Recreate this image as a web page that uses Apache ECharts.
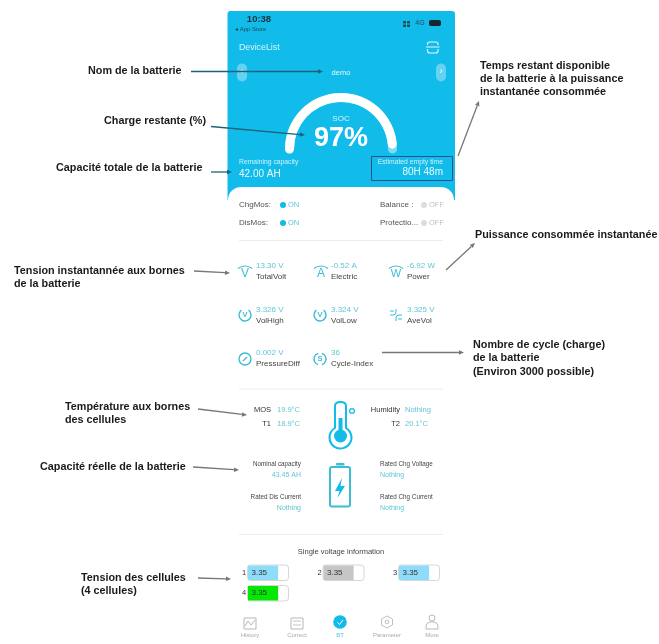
<!DOCTYPE html>
<html><head><meta charset="utf-8">
<style>html,body{margin:0;padding:0;background:#fff}#c{width:659px;height:644px}</style>
<script src="https://cdn.jsdelivr.net/npm/echarts@6/dist/echarts.min.js"></script></head>
<body><div id="c"></div>
<script>
// ---- data ----
const socPercent = 97;
const cellNames = ['1','2','3','4'];
const cellVoltages = [3.35,3.35,3.35,3.35];
const cellColors = ['#8edcfa','#c6c6c6','#8edcfa','#04e804'];
const cellScaleMax = 4.45;
const metricValues = ['13.30 V','-0.52 A','-6.92 W','3.326 V','3.324 V','3.325 V','0.002 V','36'];
const metricNames = ['TotalVolt','Electric','Power','VolHigh','VolLow','AveVol','PressureDiff','Cycle-Index'];
const navNames = ['History','Correct','BT','Parameter','More'];
const annotations = {
  name:'Nom de la batterie', soc:'Charge restante (%)', cap:'Capacité totale de la batterie',
  volt:['Tension instantannée aux bornes','de la batterie'],
  temp:['Température aux bornes','des cellules'], real:'Capacité réelle de la batterie',
  cells:['Tension des cellules','(4 cellules)'],
  time:['Temps restant disponible','de la batterie à la puissance','instantanée consommée'],
  power:'Puissance consommée instantanée',
  cycle:['Nombre de cycle (charge)','de la batterie','(Environ 3000 possible)']
};

// ---- helpers ----
const F='"Liberation Sans",Arial,sans-serif', BLUE='#12bcea', TEAL='#62c6d6', ICON='#3dbcd6';
const g=[];
function T(text,x,y,size,fill,o={}){g.push({type:'text',z:o.z||5,silent:true,x,y,style:{text,fontFamily:F,fontSize:size,fill,
  align:o.align||'left',verticalAlign:'middle',fontWeight:o.bold?'bold':'normal',opacity:o.op==null?1:o.op}});}
function L(x1,y1,x2,y2,stroke,w,z=6){g.push({type:'line',z,silent:true,shape:{x1,y1,x2,y2},style:{stroke,lineWidth:w}});}
function R(x,y,w,h,o={}){g.push({type:'rect',z:o.z||1,silent:true,shape:{x,y,width:w,height:h,r:o.r||0},style:{fill:o.fill||'none',stroke:o.stroke||'none',lineWidth:o.lw||1,opacity:o.op==null?1:o.op}});}
function C(cx,cy,r,o={}){g.push({type:'circle',z:o.z||3,silent:true,shape:{cx,cy,r},style:{fill:o.fill||'none',stroke:o.stroke||'none',lineWidth:o.lw||1}});}
function A(cx,cy,r,s,e,o={}){g.push({type:'arc',z:o.z||3,silent:true,shape:{cx,cy,r,startAngle:s,endAngle:e,clockwise:true},style:{fill:'none',stroke:o.stroke||ICON,lineWidth:o.lw||1.2}});}
function P(pts,o={}){g.push({type:o.line?'polyline':'polygon',z:o.z||6,silent:true,shape:{points:pts},style:{fill:o.line?'none':(o.fill||'#777'),stroke:o.stroke||'none',lineWidth:o.lw||1}});}
let pathId=0;
function Pth(d,stroke,w){const name='iconPath'+(pathId++);echarts.graphic.registerShape(name,echarts.graphic.extendPath(d));
  g.push({type:name,z:3,silent:true,style:{fill:'none',stroke,lineWidth:w}});}
function Arrow(x1,y1,x2,y2,col,w=1.3,hs=5){
  const a=Math.atan2(y2-y1,x2-x1),bx=x2-hs*Math.cos(a),by=y2-hs*Math.sin(a),nx=-Math.sin(a)*hs*.45,ny=Math.cos(a)*hs*.45;
  L(x1,y1,bx,by,col,w); P([[x2,y2],[bx+nx,by+ny],[bx-nx,by-ny]],{fill:col});
}
function Lines(arr,x,y,lh,opt){(Array.isArray(arr)?arr:[arr]).forEach((t,i)=>T(t,x,y+i*lh,opt.size,'#1a1a1a',{bold:true,...opt}));}

// ---- phone background ----
R(227.5,11,227.5,189,{fill:BLUE,z:0,r:[3,3,0,0]});
R(228,187,226,457,{fill:'#fff',z:0,r:[13,13,0,0]});

// status bar
T('10:38',259,19,9.5,'#15323c',{align:'center',bold:true});
T('◂ App Store',235,29.5,6,'#1d4a5a');
T('4G',420,23.5,7,'#1d4a5a',{align:'center'});
[[403,21],[407,21],[403,24.5],[407,24.5]].forEach(p=>R(p[0],p[1],3,2.5,{fill:'#24505e',z:2}));
R(429,20,12,6,{fill:'#14262c',z:2,r:2});
T('DeviceList',239,47.5,8.8,'#d9f4fc');
Pth('M427.5 45V44Q427.5 42 430 42H435.5Q438 42 438 44V45','#e6f8fd',1.1);
Pth('M427.5 49V51Q427.5 53 430 53H435.5Q438 53 438 51V49','#e6f8fd',1.1);
L(426,47,439.5,47,'#e6f8fd',1,3);

// device selector
R(237,63.5,10,18,{fill:'#fff',op:.35,r:5,z:2});
R(436,63.5,10,18,{fill:'#fff',op:.35,r:5,z:2});
T('‹',242,72,9,'#eaf9fd',{align:'center'}); T('›',441,72,9,'#fff',{align:'center'});
T('demo',341,72.5,7.5,'#e6f8fd',{align:'center'});

// summary texts
T('Remaining capacity',239,162.5,6.8,'#cdf1fb');
T('42.00 AH',239,174,10,'#e8f9fd');
T('Estimated empty time',443,162.5,6.8,'#cdf1fb',{align:'right'});
T('80H 48m',443,172,10,'#e8f9fd',{align:'right'});
R(371.5,156.5,81,24,{stroke:'#2b4f86',lw:1,z:4});

// switches
[['ChgMos:',239,205,283,'ON'],['DisMos:',239,223,283,'ON'],['Balance :',380,205,424,'OFF'],['Protectio...',380,223,424,'OFF']].forEach(s=>{
  const on=s[4]==='ON';
  T(s[0],s[1],s[2],8,'#555');
  C(s[3],s[2],3,{fill:on?BLUE:'#dcdcdc'});
  T(s[4],s[3]+5,s[2],7.5,on?TEAL:'#c0c0c0');
});
L(239,240.5,443,240.5,'#ececec',1,2);

// metrics
const mx=[256,331,407], my=[266,310,353];
metricValues.forEach((v,i)=>{
  const c=i%3,r=Math.floor(i/3),x=mx[c],y=my[r];
  T(v,x,y,8,TEAL); T(metricNames[i],x,y+11,8,'#444');
});
// icons: first row (arc and letter)
['V','A','W'].forEach((l,i)=>{
  const cx=[245,321,396][i];
  A(cx,277,11,-Math.PI*.72,-Math.PI*.28);
  T(l,cx,274,i==2?11:12,ICON,{align:'center'});
});
// second row
[245,320].forEach(x=>{
  A(x,315,6,-Math.PI*.3,Math.PI*1.3,{lw:1.4});
  T('V',x,315,7.5,ICON,{align:'center',bold:true});
});
Pth('M390 315H393Q396 315 396 312V309M396 321V318Q396 315 399 315H402M390 311H394M398 319H402',ICON,1);
// third row
C(245,359,6,{stroke:ICON,lw:1.4}); L(243,361,247,357,ICON,1.3,3);
A(320,359,6,-Math.PI*.4,Math.PI*.4,{lw:1.4}); A(320,359,6,Math.PI*.6,Math.PI*1.4,{lw:1.4});
T('S',320,359,7.5,ICON,{align:'center',bold:true});

L(239,389,443,389,'#ececec',1,2);

// temperature block
T('MOS',271,410,7.5,'#333',{align:'right'}); T('19.9°C',277,410,7.5,TEAL);
T('T1',271,424,7.5,'#333',{align:'right'}); T('18.9°C',277,424,7.5,TEAL);
T('Humidity',400,410,7.5,'#333',{align:'right'}); T('Nothing',405,410,7.5,TEAL);
T('T2',400,424,7.5,'#333',{align:'right'}); T('20.1°C',405,424,7.5,TEAL);
Pth('M335 428V406Q335 402 340.5 402Q346 402 346 406V428A11 11 0 1 1 335 428Z',BLUE,2);
R(338.5,418,4,14,{fill:BLUE,z:3}); C(340.5,436,6.5,{fill:BLUE}); C(352,411,2.4,{stroke:BLUE,lw:1.3});

// capacity block
T('Nominal capacity',301,464.5,6.3,'#444',{align:'right'});
T('43.45 AH',301,475.5,7,TEAL,{align:'right'});
T('Rated Dis Current',301,497,6.3,'#444',{align:'right'});
T('Nothing',301,508,7,TEAL,{align:'right'});
T('Rated Chg Voltage',380,464.5,6.3,'#444');
T('Nothing',380,475.5,7,TEAL);
T('Rated Chg Current',380,497,6.3,'#444');
T('Nothing',380,508,7,TEAL);
R(336,463,8.5,2.5,{fill:ICON,z:3,r:1});
R(330,467,20,39.5,{stroke:ICON,lw:2,r:2,z:3});
P([[342,478],[335,491],[339.5,491],[337.5,498],[345,486],[340.5,486]],{fill:BLUE,z:3});

L(239,534.5,443,534.5,'#ececec',1,2);
T('Single voltage information',341,551.5,7.5,'#444',{align:'center'});

// cell frames + numbers
const cellPos=[[248,565.5],[323.5,565.5],[399,565.5],[248,586]];
cellNames.forEach((n,i)=>{
  T(n,cellPos[i][0]-4,cellPos[i][1]+7,7.5,'#333',{align:'center'});
  R(cellPos[i][0]-.5,cellPos[i][1]-.5,41,15.5,{stroke:'#d6d6d6',r:3,fill:'#fff',z:1});
});

// bottom nav
const navX=[250,297,340,387,432];
navNames.forEach((n,i)=>T(n,navX[i],635,6,i==2?TEAL:'#aaa',{align:'center'}));
R(244,618,12,11,{stroke:'#b8b8b8',z:3}); P([[245,626],[248,621],[251,625],[255,620]],{line:true,stroke:'#b8b8b8',z:3});
R(291,618,12,11,{stroke:'#b8b8b8',z:3}); L(293,621,301,621,'#c4c4c4',1,3); L(293,625,301,625,'#c4c4c4',1,3);
C(340,622,6.8,{fill:BLUE}); P([[337.5,622.5],[339.5,624.5],[343,620]],{line:true,stroke:'#fff',z:4});
P([[387,616],[392.5,619],[392.5,625],[387,628],[381.5,625],[381.5,619],[387,616]],{line:true,stroke:'#c0c0c0',z:3}); C(387,622,1.8,{stroke:'#c0c0c0'});
C(432,618,3,{stroke:'#b8b8b8'}); Pth('M426 629V626Q426 623 430 622H434Q438 623 438 626V629Z','#b8b8b8',1);

// annotations
const AS=10.8;
Lines(annotations.name,88,71,13,{size:AS});
Lines(annotations.soc,104,121,13,{size:AS});
Lines(annotations.cap,56,168,13,{size:AS});
Lines(annotations.volt,14,271,13,{size:AS});
Lines(annotations.temp,65,407,13,{size:AS});
Lines(annotations.real,40,467,13,{size:AS});
Lines(annotations.cells,81,578,13,{size:AS});
Lines(annotations.time,480,66,13,{size:AS});
Lines(annotations.power,475,235,13,{size:AS});
Lines(annotations.cycle,473,345,13.5,{size:AS});
const AC='#777', AD='#1c6178';
Arrow(191,71.5,323,71.5,AD,1.3);
Arrow(211,126.5,305,135,AD,1.3);
Arrow(211,172,232,172,AD,1.3);
Arrow(194,271,230,273,AC);
Arrow(198,409,247,415,AC);
Arrow(193,467,239,470,AC);
Arrow(198,578,231,579,AC);
Arrow(458,156,479,101,AC);
Arrow(446,270,475,243,AC);
Arrow(382,352.5,464,352.5,AC);

// ---- chart ----
const chart=echarts.init(document.getElementById('c'),null,{renderer:'canvas'});
const grids=[],xs=[],ys=[],bars=[];
cellVoltages.forEach((v,i)=>{
  grids.push({left:cellPos[i][0],top:cellPos[i][1],width:40,height:14.5,containLabel:false});
  xs.push({gridIndex:i,type:'value',min:0,max:cellScaleMax,show:false});
  ys.push({gridIndex:i,type:'category',data:[cellNames[i]],show:false});
  bars.push({type:'bar',xAxisIndex:i,yAxisIndex:i,barWidth:'100%',data:[v],silent:true,z:2,
    itemStyle:{color:cellColors[i]},
    label:{show:true,position:'insideLeft',distance:3.5,formatter:p=>p.value.toFixed(2),fontFamily:F,fontSize:8,color:'#333'}});
});
chart.setOption({
  animation:false,backgroundColor:'#fff',
  grid:grids,xAxis:xs,yAxis:ys,
  graphic:{elements:g},
  series:[{
    type:'gauge',center:[341,149],radius:56,startAngle:180,endAngle:0,min:0,max:100,z:3,silent:true,
    axisLine:{roundCap:true,lineStyle:{width:9,color:[[1,'rgba(255,255,255,.45)']]}},
    progress:{show:true,roundCap:true,width:9,itemStyle:{color:'#fff'}},
    pointer:{show:false},axisTick:{show:false},splitLine:{show:false},axisLabel:{show:false},
    anchor:{show:false},
    title:{show:true,offsetCenter:[0,-30],fontSize:8,color:'#d6f4fc',fontFamily:F},
    detail:{valueAnimation:false,formatter:'{value}%',offsetCenter:[0,-10],fontSize:27,color:'#fff',fontFamily:F},
    data:[{value:socPercent,name:'SOC'}]
  }].concat(bars)
});
</script></body></html>
